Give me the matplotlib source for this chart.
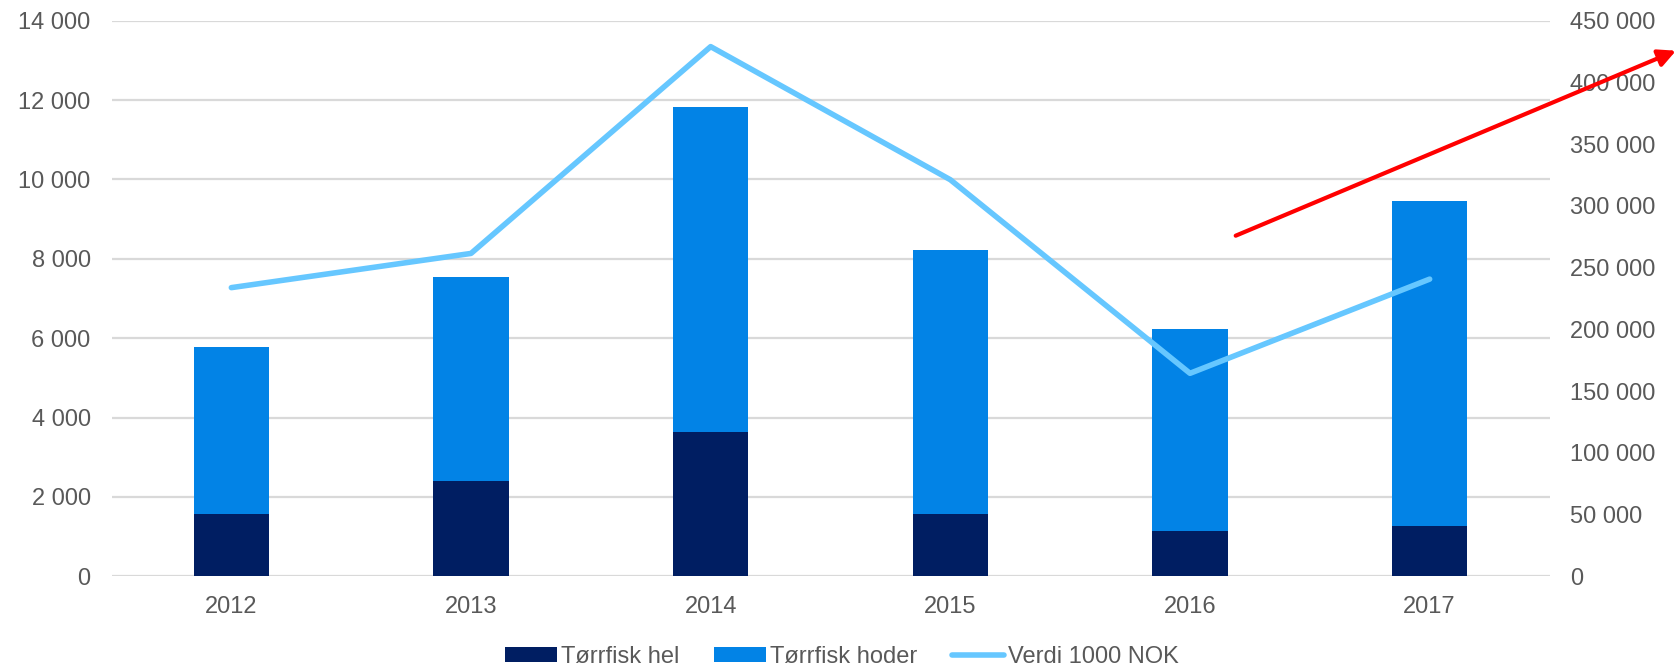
"""
Tørrfisk eksport 2012-2017: tonn (stablede søyler) og verdi i 1000 NOK (linje).
"""

import numpy as np
import matplotlib
matplotlib.use('Agg')
import matplotlib.pyplot as plt
from matplotlib.ticker import FuncFormatter, MultipleLocator
from matplotlib.patches import FancyArrowPatch

# data
years = ['2012', '2013', '2014', '2015', '2016', '2017']
torrfisk_hel = [1560, 2400, 3640, 1560, 1130, 1265]
torrfisk_total = [5790, 7545, 11825, 8215, 6220, 9455]
torrfisk_hoder = [t - h for t, h in zip(torrfisk_total, torrfisk_hel)]
verdi_1000_nok = [233800, 261500, 429000, 321200, 164400, 240700]

# colours
c_hel = '#001E62'
c_hoder = '#0283E6'
c_verdi = '#66C7FF'
c_grid = '#D9D9D9'
c_text = '#595959'

fontsize = 17
plt.rcParams.update({'font.family': ['Liberation Sans', 'DejaVu Sans'],
                     'font.size': fontsize})


def space_thousands(x, pos):
    return '{:,.0f}'.format(x).replace(',', ' ')


fig = plt.figure(figsize=(16.77, 6.69), dpi=100)
ax = fig.add_axes([111.5 / 1677, 1 - 576.3 / 669,
                   (1549.5 - 111.5) / 1677, (576.3 - 20.7) / 669])

x = np.arange(len(years))
bar_w = 0.314
ax.bar(x, torrfisk_hel, width=bar_w, color=c_hel, label='Tørrfisk hel', zorder=2)
ax.bar(x, torrfisk_hoder, width=bar_w, bottom=torrfisk_hel, color=c_hoder,
       label='Tørrfisk hoder', zorder=2)

ax.set_xlim(-0.5, len(years) - 0.5)
ax.set_ylim(0, 14000)
ax.yaxis.set_major_locator(MultipleLocator(2000))
ax.yaxis.set_major_formatter(FuncFormatter(space_thousands))
ax.set_xticks(x)
ax.set_xticklabels(years)
ax.grid(axis='y', color=c_grid, linewidth=1.6, zorder=0)
ax.set_axisbelow(True)

# right axis for value
ax2 = ax.twinx()
ax2.plot(x, verdi_1000_nok, color=c_verdi, linewidth=4,
         solid_capstyle='round', label='Verdi 1000 NOK', zorder=3)
ax2.set_ylim(0, 450000)
ax2.yaxis.set_major_locator(MultipleLocator(50000))
ax2.yaxis.set_major_formatter(FuncFormatter(space_thousands))

for a in (ax, ax2):
    for s in a.spines.values():
        s.set_visible(False)
    a.tick_params(length=0, colors=c_text, labelsize=fontsize)
ax.tick_params(axis='y', pad=15)
ax.tick_params(axis='x', pad=14)
ax2.tick_params(axis='y', pad=15)

# legend at the bottom
h1, l1 = ax.get_legend_handles_labels()
h2, l2 = ax2.get_legend_handles_labels()
leg = fig.legend(h1 + h2, l1 + l2, loc='center', bbox_to_anchor=(0.502, 0.018),
                 ncol=3, frameon=False, fontsize=fontsize, handlelength=2.2,
                 handleheight=0.6, handletextpad=0.15, columnspacing=1.5)
for t in leg.get_texts():
    t.set_color(c_text)

# red trend arrow drawn over the chart
arrow = FancyArrowPatch((1235.7 / 1677, 1 - 235.7 / 669), (1676 / 1677, 1 - 50.7 / 669),
                        transform=fig.transFigure, arrowstyle='-|>',
                        mutation_scale=26, color='#FF0000', linewidth=3,
                        shrinkA=0, shrinkB=0)
fig.add_artist(arrow)

fig.savefig('out.png', dpi=100)
